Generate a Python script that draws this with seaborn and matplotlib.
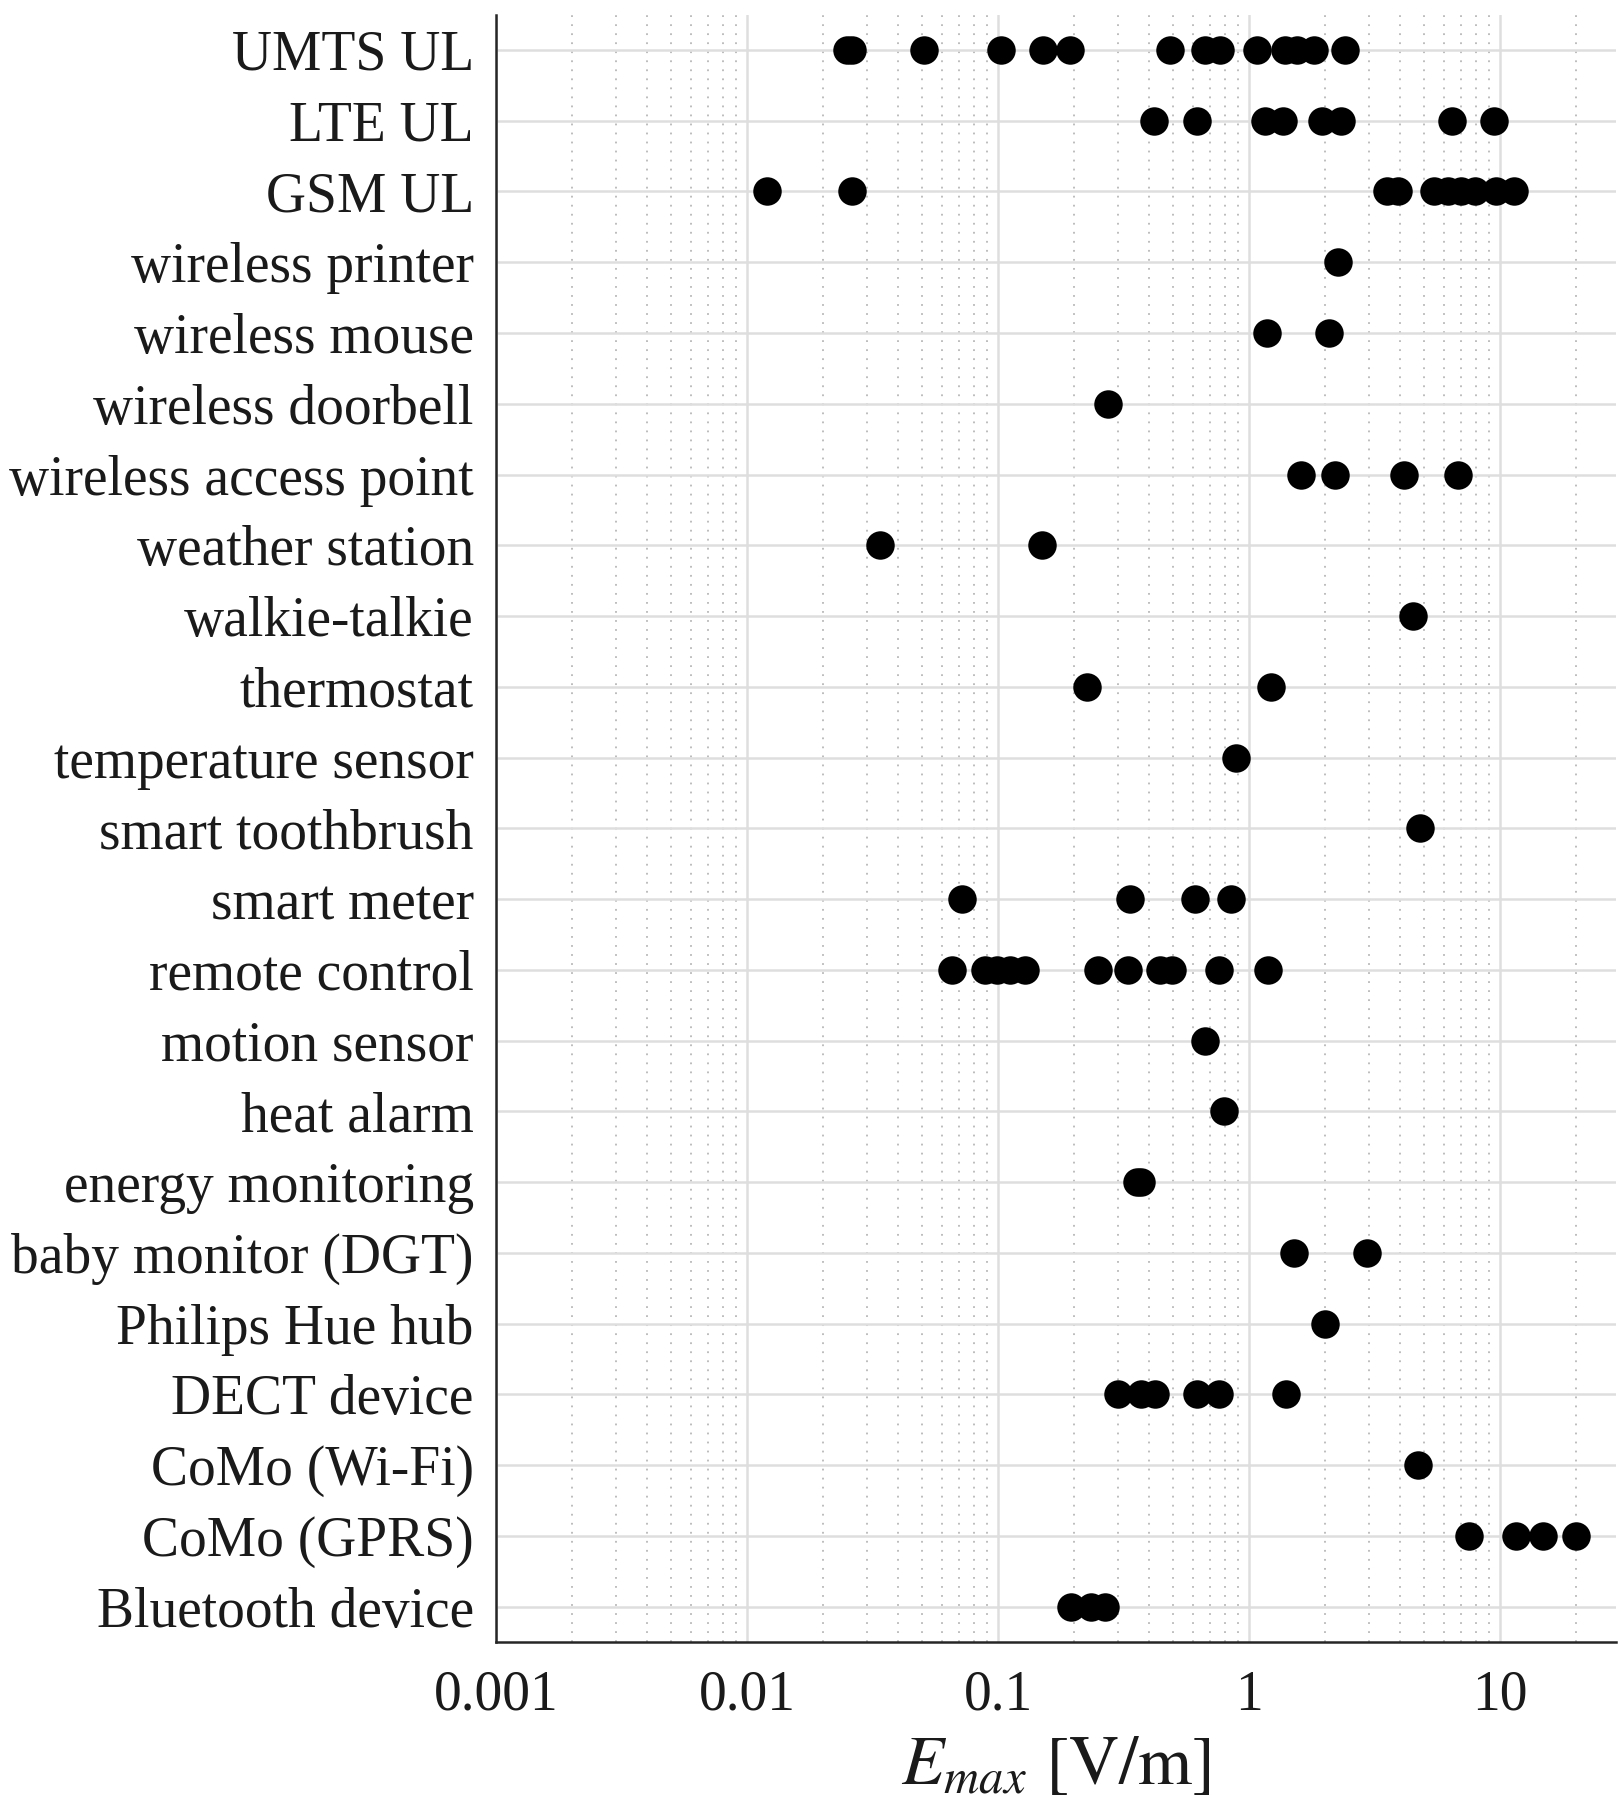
import numpy as np
import pandas as pd
import matplotlib
matplotlib.use("Agg")
import matplotlib.pyplot as plt
import matplotlib.ticker as mticker
import seaborn as sns

# ---- data (E_max in V/m) ----
categories = ["UMTS UL", "LTE UL", "GSM UL", "wireless printer", "wireless mouse",
              "wireless doorbell", "wireless access point", "weather station",
              "walkie-talkie", "thermostat", "temperature sensor", "smart toothbrush",
              "smart meter", "remote control", "motion sensor", "heat alarm",
              "energy monitoring", "baby monitor (DGT)", "Philips Hue hub",
              "DECT device", "CoMo (Wi-Fi)", "CoMo (GPRS)", "Bluetooth device"]

umts_ul = [0.0251, 0.0262, 0.0509, 0.103, 0.151, 0.193, 0.484, 0.665, 0.765, 1.078,
           1.397, 1.556, 1.81, 2.41]
lte_ul = [0.420, 0.619, 1.157, 1.36, 1.96, 2.33, 6.43, 9.42]
gsm_ul = [0.0120, 0.0261, 3.56, 3.91, 5.48, 6.23, 6.96, 7.98, 9.60, 11.32]
wireless_printer = [2.26]
wireless_mouse = [1.182, 2.09]
wireless_doorbell = [0.273]
wireless_access_point = [1.607, 2.21, 4.15, 6.78]
weather_station = [0.034, 0.150]
walkie_talkie = [4.50]
thermostat = [0.226, 1.221]
temperature_sensor = [0.884]
smart_toothbrush = [4.78]
smart_meter = [0.072, 0.3365, 0.609, 0.851]
remote_control = [0.0653, 0.0884, 0.0986, 0.1112, 0.1276, 0.250, 0.330, 0.440, 0.494,
                  0.76, 1.188]
motion_sensor = [0.667]
heat_alarm = [0.797]
energy_monitoring = [0.358, 0.372]
baby_monitor = [1.507, 2.96]
philips_hue_hub = [2.0]
dect_device = [0.300, 0.370, 0.421, 0.618, 0.758, 1.41]
como_wifi = [4.72]
como_gprs = [7.51, 11.63, 14.83, 20.1]
bluetooth_device = [0.196, 0.234, 0.266]

series = [umts_ul, lte_ul, gsm_ul, wireless_printer, wireless_mouse, wireless_doorbell,
          wireless_access_point, weather_station, walkie_talkie, thermostat,
          temperature_sensor, smart_toothbrush, smart_meter, remote_control,
          motion_sensor, heat_alarm, energy_monitoring, baby_monitor, philips_hue_hub,
          dect_device, como_wifi, como_gprs, bluetooth_device]

x_ticks = [0.001, 0.01, 0.1, 1, 10]
x_ticklabels = ["0.001", "0.01", "0.1", "1", "10"]

rows = []
for cat, vals in zip(categories, series):
    for v in vals:
        rows.append({"device": cat, "E": v})
df = pd.DataFrame(rows)

# ---- style ----
sns.set_theme(style="white")
plt.rcParams["font.family"] = ["Liberation Serif", "DejaVu Serif"]
plt.rcParams["mathtext.fontset"] = "stix"

fig = plt.figure(figsize=(16.19, 17.97), dpi=100)
ax = fig.add_axes([0.3064, 0.0862, 0.6918, 0.9057])

sns.stripplot(data=df, x="E", y="device", order=categories, jitter=False,
              color="black", size=20.5, linewidth=0, log_scale=True, ax=ax,
              zorder=3)

ax.set_xlim(1e-3, 29)
ax.set_ylim(len(categories) - 0.5, -0.5)

ax.xaxis.set_major_locator(mticker.FixedLocator(x_ticks))
ax.xaxis.set_major_formatter(mticker.FixedFormatter(x_ticklabels))
ax.xaxis.set_minor_locator(mticker.LogLocator(base=10, subs=np.arange(2, 10), numticks=50))
ax.xaxis.set_minor_formatter(mticker.NullFormatter())

ax.set_axisbelow(True)
ax.grid(which="major", axis="both", color="#dedede", linewidth=1.8)
ax.grid(which="minor", axis="x", color="#b8b8b8", linestyle=(0, (1, 4)), linewidth=1.3)

for side in ["top", "right"]:
    ax.spines[side].set_visible(False)
for side in ["left", "bottom"]:
    ax.spines[side].set_color("#262626")
    ax.spines[side].set_linewidth(1.8)

ax.tick_params(axis="both", which="both", direction="in", colors="#262626")
ax.tick_params(axis="x", which="major", length=12, width=1.4, labelsize=40, pad=20,
               labelcolor="#1a1a1a")
ax.tick_params(axis="x", which="minor", length=6.5, width=1.2)
ax.tick_params(axis="y", which="major", length=10, width=1.4, labelsize=40, pad=16,
               labelcolor="#1a1a1a")

ax.set_ylabel("")
ax.set_xlabel(r"$E_{max}$ $[\mathrm{V/m}]$", fontsize=50, color="#1a1a1a", labelpad=10)

fig.savefig("out.png", dpi=100)
